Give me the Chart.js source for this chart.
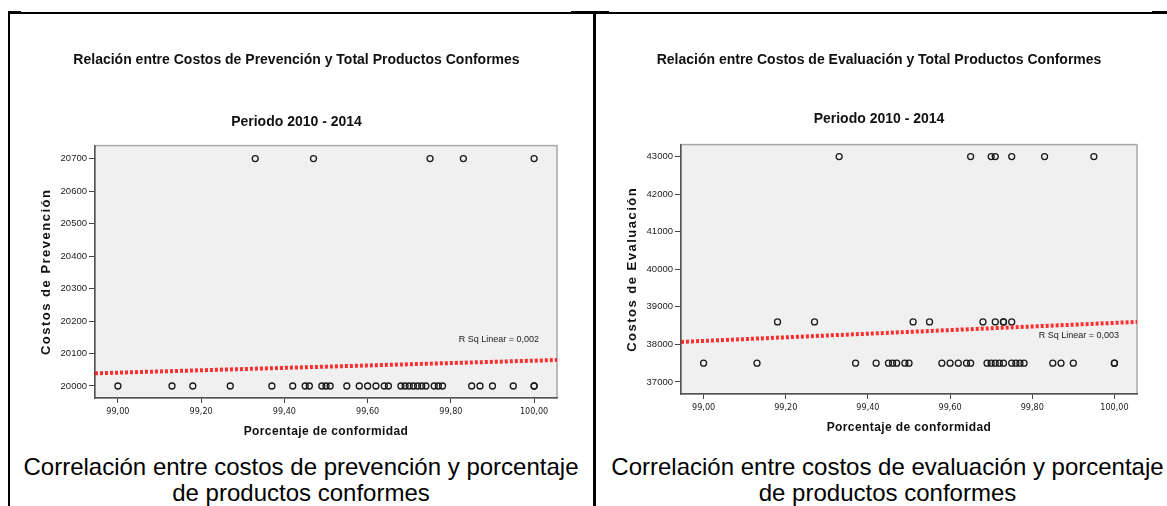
<!DOCTYPE html>
<html lang="es">
<head>
<meta charset="utf-8">
<title>Costos de calidad vs. porcentaje de conformidad</title>
<script src="https://cdn.jsdelivr.net/npm/chart.js@4.4.1/dist/chart.umd.min.js"></script>
<style>
  html, body { margin: 0; padding: 0; background: #fff; }
  body { width: 1167px; height: 506px; position: relative; overflow: hidden;
         font-family: "Liberation Sans", Arial, sans-serif; }
  .panel { position: absolute; top: 0; }
  #leftPanel  { left: 0;   width: 594px; height: 450px; }
  #rightPanel { left: 596px; width: 568px; height: 445px; }
  .caption { position: absolute; top: 454px; text-align: center; font-size: 24px;
             line-height: 26px; color: #000; white-space: nowrap; }
  #leftCaption  { left: 8px;   width: 586px; }
  #rightCaption { left: 597px; width: 581px; }
  .rule { position: absolute; background: #000; }
</style>
</head>
<body>

<div class="panel" id="leftPanel"><canvas id="prevChart" width="594" height="450"></canvas></div>
<div class="panel" id="rightPanel"><canvas id="evalChart" width="568" height="445"></canvas></div>

<div class="caption" id="leftCaption">Correlación entre costos de prevención y porcentaje<br>de productos conformes</div>
<div class="caption" id="rightCaption">Correlación entre costos de evaluación y porcentaje<br>de productos conformes</div>

<!-- table frame -->
<div class="rule" style="left:8px;top:12px;width:1159px;height:1.5px;"></div>
<div class="rule" style="left:8px;top:12px;width:2px;height:494px;"></div>
<div class="rule" style="left:593px;top:12px;width:3px;height:494px;"></div>
<div class="rule" style="left:8px;top:11px;width:13px;height:3px;"></div>
<div class="rule" style="left:571px;top:11px;width:38px;height:3px;"></div>
<div class="rule" style="left:1152px;top:11px;width:15px;height:3px;"></div>

<script>
// ---- Prevention costs (Costos de Prevención) ----
const prevHighCost = 20700;
const prevHighPct = [99.33, 99.47, 99.75, 99.83, 100.00];
const prevLowCost = 20000;
const prevLowPct = [99.00, 99.13, 99.18, 99.27, 99.37, 99.42, 99.45, 99.46, 99.49, 99.50,
                    99.51, 99.55, 99.58, 99.60, 99.62, 99.64, 99.65, 99.68, 99.69, 99.70,
                    99.71, 99.72, 99.73, 99.74, 99.76, 99.77, 99.78, 99.85, 99.87, 99.90,
                    99.95, 100.00, 100.00];
const prevFitPct = [98.945, 100.055];
const prevFitCost = [20039, 20080];
const prevRSq = '0,002';
const prevYTicks = [20000, 20100, 20200, 20300, 20400, 20500, 20600, 20700];
const prevYRange = [19963, 20740];

// ---- Evaluation costs (Costos de Evaluación) ----
const evalHighCost = 43000;
const evalHighPct = [99.33, 99.65, 99.70, 99.71, 99.75, 99.83, 99.95];
const evalMidCost = 38600;
const evalMidPct = [99.18, 99.27, 99.51, 99.55, 99.68, 99.71, 99.73, 99.73, 99.75];
const evalLowCost = 37500;
const evalLowPct = [99.00, 99.13, 99.37, 99.42, 99.45, 99.46, 99.47, 99.49, 99.50, 99.58,
                    99.60, 99.62, 99.64, 99.65, 99.69, 99.70, 99.71, 99.72, 99.73, 99.75,
                    99.76, 99.77, 99.78, 99.85, 99.87, 99.90, 100.00, 100.00];
const evalFitPct = [98.945, 100.055];
const evalFitCost = [38067, 38600];
const evalRSq = '0,003';
const evalYTicks = [37000, 38000, 39000, 40000, 41000, 42000, 43000];
const evalYRange = [36680, 43320];

// ---- shared x axis ----
const xTicks = [99.00, 99.20, 99.40, 99.60, 99.80, 100.00];
const xRange = [98.945, 100.055];
const xTitle = 'Porcentaje de conformidad';

const FONT = '"Liberation Sans", Arial, sans-serif';
const NARROW = '"Liberation Sans Narrow", "Arial Narrow", "DejaVu Sans Condensed", "Liberation Sans", Arial, sans-serif';

function toPoints(pcts, cost) { return pcts.map(p => ({ x: p, y: cost })); }
function zip(xs, ys) { return xs.map((x, i) => ({ x: x, y: ys[i] })); }

// plot background, light frame, spaced axis titles and the R² note
const plotFrame = {
  id: 'plotFrame',
  beforeDraw(chart) {
    const { ctx, chartArea: a } = chart;
    ctx.save();
    ctx.fillStyle = '#f0f0f0';
    ctx.fillRect(a.left, a.top, a.right - a.left, a.bottom - a.top);
    ctx.strokeStyle = '#a8a8a8';
    ctx.lineWidth = 1.5;
    ctx.strokeRect(a.left, a.top, a.right - a.left, a.bottom - a.top);
    ctx.restore();
  },
  afterDatasetsDraw(chart, args, opts) {
    const { ctx, chartArea: a } = chart;
    ctx.save();
    ctx.fillStyle = '#222';
    ctx.font = '9px ' + FONT;
    ctx.textAlign = 'right';
    ctx.textBaseline = 'middle';
    ctx.fillText('R Sq Linear = ' + opts.rsq, a.right - 18, a.bottom - 58);
    ctx.restore();
  },
  afterDraw(chart, args, opts) {
    const { ctx, chartArea: a } = chart;
    ctx.save();
    ctx.fillStyle = '#111';
    ctx.textAlign = 'center';
    ctx.textBaseline = 'middle';
    // x axis title
    ctx.font = 'bold 12px ' + FONT;
    ctx.letterSpacing = '0.4px';
    ctx.fillText(opts.xTitle, (a.left + a.right) / 2, a.bottom + 34);
    // y axis title, rotated
    ctx.font = 'bold 13px ' + FONT;
    ctx.letterSpacing = '1.5px';
    ctx.translate(a.left - 48.5, (a.top + a.bottom) / 2);
    ctx.rotate(-Math.PI / 2);
    ctx.fillText(opts.yTitle, 0, 0);
    ctx.restore();
  }
};

function makeChart(canvasId, cfg) {
  const scatterSets = cfg.groups.map(g => ({
    type: 'scatter',
    data: g,
    pointStyle: 'circle',
    pointRadius: 3,
    pointHoverRadius: 3,
    borderColor: '#1a1a1a',
    borderWidth: 1.3,
    backgroundColor: 'rgba(0,0,0,0)'
  }));
  return new Chart(document.getElementById(canvasId), {
    type: 'scatter',
    data: {
      datasets: [
        {
          type: 'line',
          data: cfg.fit,
          borderColor: 'rgba(255,25,25,0.9)',
          borderWidth: 4,
          borderDash: [3, 2],
          pointRadius: 0,
          fill: false,
          tension: 0
        },
        ...scatterSets
      ]
    },
    plugins: [plotFrame],
    options: {
      responsive: false,
      animation: false,
      events: [],
      layout: { padding: cfg.padding },
      plugins: {
        legend: { display: false },
        tooltip: { enabled: false },
        plotFrame: { rsq: cfg.rsq, xTitle: xTitle, yTitle: cfg.yTitle },
        title: {
          display: true, text: cfg.title, color: '#111',
          font: { family: FONT, size: 14, weight: 'bold' },
          padding: { top: 52, bottom: 0 }
        },
        subtitle: {
          display: true, text: 'Periodo 2010 - 2014', color: '#111',
          font: { family: FONT, size: 14, weight: 'bold' },
          padding: cfg.subPad
        }
      },
      scales: {
        x: {
          type: 'linear',
          min: xRange[0], max: xRange[1],
          afterBuildTicks: ax => { ax.ticks = xTicks.map(v => ({ value: v })); },
          afterFit: s => { s.height = cfg.xHeight; },
          ticks: {
            callback: v => v.toFixed(2).replace('.', ','),
            color: '#222', font: { family: NARROW, size: 9 },
            padding: 3, maxRotation: 0, autoSkip: false
          },
          grid: { drawOnChartArea: false, drawTicks: true, tickLength: 5, color: '#444' },
          border: { color: '#555', width: 1.5 },
          title: { display: false }
        },
        y: {
          type: 'linear',
          min: cfg.yRange[0], max: cfg.yRange[1],
          afterBuildTicks: ax => { ax.ticks = cfg.yTicks.map(v => ({ value: v })); },
          afterFit: s => { s.width = cfg.yWidth; },
          ticks: {
            callback: v => String(v),
            color: '#222', font: { family: FONT, size: 9.5 },
            padding: 2, autoSkip: false
          },
          grid: { drawOnChartArea: false, drawTicks: true, tickLength: 6, color: '#444' },
          border: { color: '#555', width: 1.5 },
          title: { display: false }
        }
      }
    }
  });
}

makeChart('prevChart', {
  title: 'Relación entre Costos de Prevención y Total Productos Conformes',
  yTitle: 'Costos de Prevención',
  groups: [toPoints(prevHighPct, prevHighCost), toPoints(prevLowPct, prevLowCost)],
  fit: zip(prevFitPct, prevFitCost),
  rsq: prevRSq,
  yTicks: prevYTicks,
  yRange: prevYRange,
  padding: { left: 36, right: 37, top: 0, bottom: 0 },
  subPad: { top: 45, bottom: 15 },
  yWidth: 59,
  xHeight: 52
});

makeChart('evalChart', {
  title: 'Relación entre Costos de Evaluación y Total Productos Conformes',
  yTitle: 'Costos de Evaluación',
  groups: [toPoints(evalHighPct, evalHighCost), toPoints(evalMidPct, evalMidCost),
           toPoints(evalLowPct, evalLowCost)],
  fit: zip(evalFitPct, evalFitCost),
  rsq: evalRSq,
  yTicks: evalYTicks,
  yRange: evalYRange,
  padding: { left: 25, right: 27, top: 0, bottom: 0 },
  subPad: { top: 42, bottom: 17 },
  yWidth: 60,
  xHeight: 51
});
</script>
</body>
</html>
